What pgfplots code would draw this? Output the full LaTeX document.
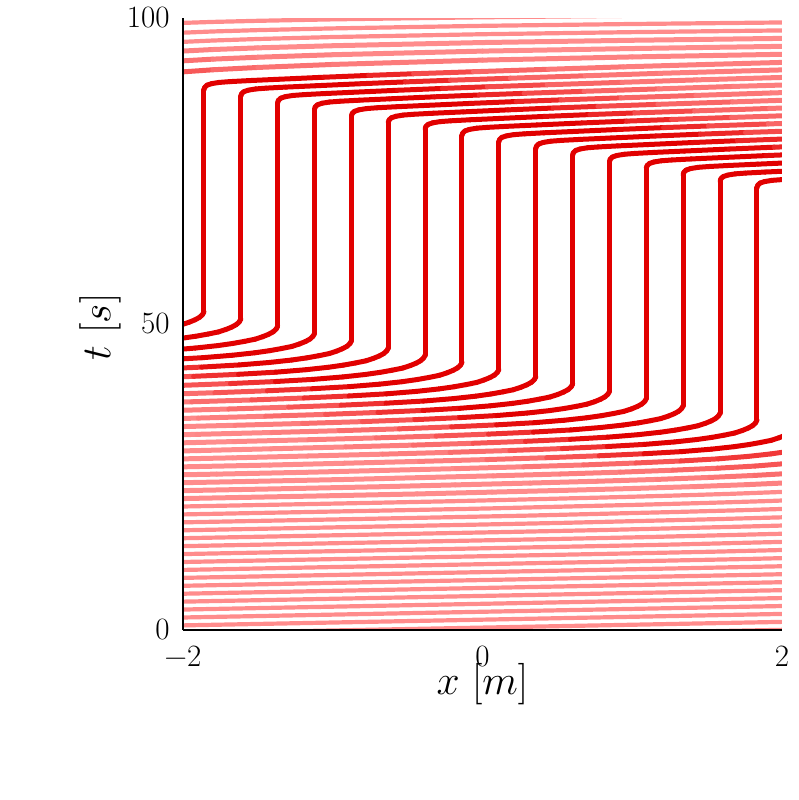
\documentclass[border=0pt]{standalone}
\usepackage{pgfplots}
\pgfplotsset{compat=1.18}
\definecolor{lightred}{RGB}{255,140,140}
\definecolor{solidred}{RGB}{225,0,0}
\newcommand{\tl}[1]{{\fontsize{15.5}{18}\selectfont #1}}
\pgfplotsset{
  colormap={redfade}{rgb255=(255,140,140) rgb255=(245,70,70) rgb255=(225,0,0)},
  traj/.style={mesh, point meta=explicit, line width=2.5pt, line cap=round, line join=round},
  free/.style={color=lightred, line width=2.1pt, line cap=round, line join=round, no markers},
}
\begin{document}
\begin{tikzpicture}
\useasboundingbox (-91.5pt,-85pt) rectangle (308pt,315pt);
\begin{axis}[
  at={(0,0)}, anchor=south west,
  width=299.5pt, height=306pt, scale only axis,
  xmin=-2, xmax=2, ymin=0, ymax=100,
  axis x line*=bottom, axis y line*=left,
  axis line style={line width=0.8pt, black},
  axis on top,
  xtick={-2,0,2}, ytick={0,50,100},
  xticklabels={\tl{−2},\tl{0},\tl{2}}, yticklabels={\tl{0},\tl{50},\tl{100}},
  major tick length=0pt,
  xticklabel style={inner sep=0pt, anchor=north, yshift=-8pt},
  yticklabel style={inner sep=0pt, anchor=east, xshift=-6.5pt},
  colormap name=redfade,
  point meta min=0, point meta max=1,
  xlabel={$x\ [m]$}, ylabel={$t\ [s]$},
  every axis x label/.style={at={(axis description cs:0.5,-0.089)}, anchor=center, inner sep=0pt, font=\fontsize{20.5}{24}\selectfont},
  every axis y label/.style={at={(axis description cs:-0.1386,0.495)}, anchor=center, inner sep=0pt, rotate=90, font=\fontsize{20.5}{24}\selectfont},
]
% ---- early vehicles (free flow, light) ----
\addplot[free] coordinates {(-2.05,-1.87) (2.05,0.05)};
\addplot[free] coordinates {(-2.05,-0.57) (2.05,1.35)};
\addplot[free] coordinates {(-2.05,0.73) (2.05,2.65)};
\addplot[free] coordinates {(-2.05,2.02) (2.05,3.94)};
\addplot[free] coordinates {(-2.05,3.32) (2.05,5.24)};
\addplot[free] coordinates {(-2.05,4.61) (2.05,6.53)};
\addplot[free] coordinates {(-2.082,5.89) (-1.082,6.36) (-0.082,6.83) (0.918,7.30) (1.918,7.77) (2.518,8.07)};
\addplot[free] coordinates {(-2.328,7.07) (-1.328,7.54) (-0.328,8.01) (0.672,8.48) (1.672,8.95) (2.272,9.25)};
\addplot[free] coordinates {(-2.574,8.25) (-1.574,8.72) (-0.574,9.19) (0.426,9.66) (1.426,10.13) (2.026,10.43)};
\addplot[free] coordinates {(-2.820,9.43) (-1.820,9.90) (-0.820,10.37) (0.180,10.84) (1.180,11.31) (1.780,11.61) (2.280,11.91)};
\addplot[free] coordinates {(-2.067,11.08) (-1.067,11.55) (-0.067,12.02) (0.933,12.49) (1.533,12.79) (2.033,13.09)};
\addplot[free] coordinates {(-2.313,12.26) (-1.313,12.73) (-0.313,13.20) (0.687,13.67) (1.287,13.97) (1.787,14.27) (2.287,14.57)};
\addplot[free] coordinates {(-2.559,13.44) (-1.559,13.91) (-0.559,14.38) (0.441,14.85) (1.041,15.15) (1.541,15.45) (2.041,15.75)};
\addplot[free] coordinates {(-2.805,14.62) (-1.805,15.09) (-0.805,15.56) (0.195,16.03) (0.795,16.33) (1.295,16.63) (1.795,16.93) (2.245,17.23)};
\addplot[free] coordinates {(-2.051,16.27) (-1.051,16.74) (-0.051,17.21) (0.549,17.51) (1.049,17.81) (1.549,18.11) (1.999,18.41) (2.399,18.71)};
\addplot[free] coordinates {(-2.298,17.45) (-1.298,17.92) (-0.298,18.39) (0.302,18.69) (0.802,18.99) (1.302,19.29) (1.752,19.59) (2.152,19.89)};
\addplot[free] coordinates {(-2.544,18.63) (-1.544,19.10) (-0.544,19.57) (0.056,19.87) (0.556,20.17) (1.056,20.47) (1.506,20.77) (1.906,21.07) (2.256,21.39)};
\addplot[free] coordinates {(-2.790,19.81) (-1.790,20.28) (-0.790,20.75) (-0.190,21.05) (0.310,21.35) (0.810,21.65) (1.260,21.95) (1.660,22.25) (2.010,22.57)};
\addplot[traj] coordinates {(-2.036,21.46)[0] (-1.036,21.93)[0] (-0.436,22.23)[0] (0.064,22.53)[0] (0.564,22.83)[0] (1.014,23.13)[0] (1.414,23.43)[0.02] (1.764,23.75)[0.05] (2.064,24.08)[0.1]};
\addplot[traj] coordinates {(-2.282,22.64)[0] (-1.282,23.11)[0] (-0.682,23.41)[0] (-0.182,23.71)[0] (0.318,24.01)[0.01] (0.768,24.31)[0.04] (1.168,24.61)[0.08] (1.518,24.93)[0.12] (1.818,25.26)[0.2] (2.068,25.61)[0.25]};
\addplot[traj] coordinates {(-2.529,23.82)[0] (-1.529,24.29)[0] (-0.929,24.59)[0] (-0.429,24.89)[0] (0.071,25.19)[0.02] (0.521,25.49)[0.06] (0.921,25.79)[0.12] (1.271,26.11)[0.2] (1.571,26.44)[0.32] (1.821,26.79)[0.4] (2.021,27.19)[0.4]};
\addplot[traj] coordinates {(-2.775,25.00)[0] (-1.775,25.47)[0] (-1.175,25.77)[0] (-0.675,26.07)[0] (-0.175,26.37)[0.03] (0.275,26.67)[0.09] (0.675,26.97)[0.18] (1.025,27.29)[0.3] (1.325,27.62)[0.48] (1.575,27.97)[0.6] (1.775,28.37)[0.6] (1.925,28.77)[0.6] (2.025,29.12)[0.6]};
% ---- late vehicles (after the jam) ----
\addplot[free] coordinates {(-2,99.20) (-1.8,99.36) (-1.5,99.54) (-1,99.78) (0,100.12) (1,100.36) (2,100.57)};
\addplot[free] coordinates {(-2,97.60) (-1.8,97.80) (-1.5,98.02) (-1,98.30) (0,98.72) (1,99.02) (2,99.27)};
\addplot[free] coordinates {(-2,96.10) (-1.8,96.32) (-1.5,96.57) (-1,96.89) (0,97.35) (1,97.69) (2,97.97)};
\addplot[traj] coordinates {(-2,94.60)[0.1] (-1.8,94.85)[0.05] (-1.5,95.12)[0] (-1,95.47)[0] (0,95.99)[0] (1,96.36)[0] (2,96.67)[0]};
\addplot[traj] coordinates {(-2,93.00)[0.25] (-1.8,93.28)[0.15] (-1.5,93.59)[0.1] (-1,94.00)[0.05] (0,94.59)[0] (1,95.01)[0] (2,95.37)[0]};
\addplot[traj] coordinates {(-2,91.20)[0.45] (-1.8,91.54)[0.3] (-1.5,91.92)[0.2] (-1,92.41)[0.15] (0,93.12)[0.1] (1,93.64)[0.05] (2,94.07)[0.05]};
% ---- queued vehicles ----
\addplot[traj] coordinates {(-2.021,26.65)[0] (-1.421,26.95)[0] (-0.921,27.25)[0] (-0.421,27.55)[0.05] (0.029,27.85)[0.15] (0.429,28.15)[0.3] (0.779,28.47)[0.5] (1.079,28.80)[0.8] (1.329,29.15)[1] (1.529,29.55)[1] (1.679,29.95)[1] (1.779,30.30)[1] (1.859,30.65)[1] (1.929,31.00)[1] (1.979,31.40)[1] (2.019,31.80)[1]};
\addplot[traj] coordinates {(-2.267,27.83)[0] (-1.667,28.13)[0] (-1.167,28.43)[0] (-0.667,28.73)[0.05] (-0.217,29.03)[0.15] (0.183,29.33)[0.3] (0.533,29.65)[0.5] (0.833,29.98)[0.8] (1.083,30.33)[1] (1.283,30.73)[1] (1.433,31.13)[1] (1.533,31.48)[1] (1.613,31.83)[1] (1.683,32.18)[1] (1.733,32.58)[1] (1.773,32.98)[1] (1.803,33.38)[1] (1.823,33.83)[1] (1.833,34.28)[1] (1.833,72.27)[1] (1.838,72.67)[1] (1.853,73.02)[1] (1.883,73.27)[1] (1.933,73.47)[1] (2.003,73.60)[1]};
\addplot[traj] coordinates {(-2.513,29.01)[0] (-1.913,29.31)[0] (-1.413,29.61)[0] (-0.913,29.91)[0.05] (-0.463,30.21)[0.15] (-0.063,30.51)[0.3] (0.287,30.83)[0.5] (0.587,31.16)[0.8] (0.837,31.51)[1] (1.037,31.91)[1] (1.187,32.31)[1] (1.287,32.66)[1] (1.367,33.01)[1] (1.437,33.36)[1] (1.487,33.76)[1] (1.527,34.16)[1] (1.557,34.56)[1] (1.577,35.01)[1] (1.587,35.46)[1] (1.587,73.33)[1] (1.592,73.73)[1] (1.607,74.08)[1] (1.637,74.33)[1] (1.687,74.53)[1] (1.757,74.66)[1] (1.887,74.83)[1] (2.087,75.05)[1]};
\addplot[traj] coordinates {(-2.160,30.49)[0] (-1.660,30.79)[0] (-1.160,31.09)[0.05] (-0.710,31.39)[0.15] (-0.310,31.69)[0.3] (0.040,32.01)[0.5] (0.340,32.34)[0.8] (0.590,32.69)[1] (0.790,33.09)[1] (0.940,33.49)[1] (1.040,33.84)[1] (1.120,34.19)[1] (1.190,34.54)[1] (1.240,34.94)[1] (1.280,35.34)[1] (1.310,35.74)[1] (1.330,36.19)[1] (1.340,36.64)[1] (1.340,74.40)[1] (1.345,74.80)[1] (1.360,75.15)[1] (1.390,75.40)[1] (1.440,75.60)[1] (1.510,75.73)[1] (1.640,75.90)[1] (1.840,76.12)[1] (2.140,76.45)[1]};
\addplot[traj] coordinates {(-2.406,31.67)[0] (-1.906,31.97)[0] (-1.406,32.27)[0.05] (-0.956,32.57)[0.15] (-0.556,32.87)[0.3] (-0.206,33.19)[0.5] (0.094,33.52)[0.8] (0.344,33.87)[1] (0.544,34.27)[1] (0.694,34.67)[1] (0.794,35.02)[1] (0.874,35.37)[1] (0.944,35.72)[1] (0.994,36.12)[1] (1.034,36.52)[1] (1.064,36.92)[1] (1.084,37.37)[1] (1.094,37.82)[1] (1.094,75.47)[1] (1.099,75.87)[1] (1.114,76.22)[1] (1.144,76.47)[1] (1.194,76.67)[1] (1.264,76.80)[1] (1.394,76.97)[1] (1.594,77.19)[1] (1.894,77.52)[1] (2.194,77.82)[0.85]};
\addplot[traj] coordinates {(-2.152,33.15)[0] (-1.652,33.45)[0.05] (-1.202,33.75)[0.15] (-0.802,34.05)[0.3] (-0.452,34.37)[0.5] (-0.152,34.70)[0.8] (0.098,35.05)[1] (0.298,35.45)[1] (0.448,35.85)[1] (0.548,36.20)[1] (0.628,36.55)[1] (0.698,36.90)[1] (0.748,37.30)[1] (0.788,37.70)[1] (0.818,38.10)[1] (0.838,38.55)[1] (0.848,39.00)[1] (0.848,76.54)[1] (0.853,76.94)[1] (0.868,77.29)[1] (0.898,77.54)[1] (0.948,77.74)[1] (1.018,77.87)[1] (1.148,78.04)[1] (1.348,78.26)[1] (1.648,78.59)[1] (1.948,78.89)[0.85] (2.248,79.16)[0.6]};
\addplot[traj] coordinates {(-2.398,34.33)[0] (-1.898,34.63)[0.05] (-1.448,34.93)[0.15] (-1.048,35.23)[0.3] (-0.698,35.55)[0.5] (-0.398,35.88)[0.8] (-0.148,36.23)[1] (0.052,36.63)[1] (0.202,37.03)[1] (0.302,37.38)[1] (0.382,37.73)[1] (0.452,38.08)[1] (0.502,38.48)[1] (0.542,38.88)[1] (0.572,39.28)[1] (0.592,39.73)[1] (0.602,40.18)[1] (0.602,77.60)[1] (0.607,78.00)[1] (0.622,78.35)[1] (0.652,78.60)[1] (0.702,78.80)[1] (0.772,78.93)[1] (0.902,79.10)[1] (1.102,79.32)[1] (1.402,79.65)[1] (1.702,79.95)[0.85] (2.002,80.22)[0.6]};
\addplot[traj] coordinates {(-2.144,35.81)[0.05] (-1.694,36.11)[0.15] (-1.294,36.41)[0.3] (-0.944,36.73)[0.5] (-0.644,37.06)[0.8] (-0.394,37.41)[1] (-0.194,37.81)[1] (-0.044,38.21)[1] (0.056,38.56)[1] (0.136,38.91)[1] (0.206,39.26)[1] (0.256,39.66)[1] (0.296,40.06)[1] (0.326,40.46)[1] (0.346,40.91)[1] (0.356,41.36)[1] (0.356,78.67)[1] (0.361,79.07)[1] (0.376,79.42)[1] (0.406,79.67)[1] (0.456,79.87)[1] (0.526,80.00)[1] (0.656,80.17)[1] (0.856,80.39)[1] (1.156,80.72)[1] (1.456,81.02)[0.85] (1.756,81.29)[0.6] (2.156,81.62)[0.35]};
\addplot[traj] coordinates {(-2.391,36.99)[0.05] (-1.941,37.29)[0.15] (-1.541,37.59)[0.3] (-1.191,37.91)[0.5] (-0.891,38.24)[0.8] (-0.641,38.59)[1] (-0.441,38.99)[1] (-0.291,39.39)[1] (-0.191,39.74)[1] (-0.111,40.09)[1] (-0.041,40.44)[1] (0.009,40.84)[1] (0.049,41.24)[1] (0.079,41.64)[1] (0.099,42.09)[1] (0.109,42.54)[1] (0.109,79.74)[1] (0.114,80.14)[1] (0.129,80.49)[1] (0.159,80.74)[1] (0.209,80.94)[1] (0.279,81.07)[1] (0.409,81.24)[1] (0.609,81.46)[1] (0.909,81.79)[1] (1.209,82.09)[0.85] (1.509,82.36)[0.6] (1.909,82.69)[0.35] (2.409,83.09)[0.2]};
\addplot[traj] coordinates {(-2.187,38.47)[0.15] (-1.787,38.77)[0.3] (-1.437,39.09)[0.5] (-1.137,39.42)[0.8] (-0.887,39.77)[1] (-0.687,40.17)[1] (-0.537,40.57)[1] (-0.437,40.92)[1] (-0.357,41.27)[1] (-0.287,41.62)[1] (-0.237,42.02)[1] (-0.197,42.42)[1] (-0.167,42.82)[1] (-0.147,43.27)[1] (-0.137,43.72)[1] (-0.137,80.80)[1] (-0.132,81.20)[1] (-0.117,81.55)[1] (-0.087,81.80)[1] (-0.037,82.00)[1] (0.033,82.13)[1] (0.163,82.30)[1] (0.363,82.52)[1] (0.663,82.85)[1] (0.963,83.15)[0.85] (1.263,83.42)[0.6] (1.663,83.75)[0.35] (2.163,84.15)[0.2]};
\addplot[traj] coordinates {(-2.433,39.65)[0.15] (-2.033,39.95)[0.3] (-1.683,40.27)[0.5] (-1.383,40.60)[0.8] (-1.133,40.95)[1] (-0.933,41.35)[1] (-0.783,41.75)[1] (-0.683,42.10)[1] (-0.603,42.45)[1] (-0.533,42.80)[1] (-0.483,43.20)[1] (-0.443,43.60)[1] (-0.413,44.00)[1] (-0.393,44.45)[1] (-0.383,44.90)[1] (-0.383,81.87)[1] (-0.378,82.27)[1] (-0.363,82.62)[1] (-0.333,82.87)[1] (-0.283,83.07)[1] (-0.213,83.20)[1] (-0.083,83.37)[1] (0.117,83.59)[1] (0.417,83.92)[1] (0.717,84.22)[0.85] (1.017,84.49)[0.6] (1.417,84.82)[0.35] (1.917,85.22)[0.2] (2.417,85.62)[0.1]};
\addplot[traj] coordinates {(-2.279,41.13)[0.3] (-1.929,41.45)[0.5] (-1.629,41.78)[0.8] (-1.379,42.13)[1] (-1.179,42.53)[1] (-1.029,42.93)[1] (-0.929,43.28)[1] (-0.849,43.63)[1] (-0.779,43.98)[1] (-0.729,44.38)[1] (-0.689,44.78)[1] (-0.659,45.18)[1] (-0.639,45.63)[1] (-0.629,46.08)[1] (-0.629,82.94)[1] (-0.624,83.34)[1] (-0.609,83.69)[1] (-0.579,83.94)[1] (-0.529,84.14)[1] (-0.459,84.27)[1] (-0.329,84.44)[1] (-0.129,84.66)[1] (0.171,84.99)[1] (0.471,85.29)[0.85] (0.771,85.56)[0.6] (1.171,85.89)[0.35] (1.671,86.29)[0.2] (2.171,86.69)[0.1]};
\addplot[traj] coordinates {(-2.175,42.63)[0.5] (-1.875,42.96)[0.8] (-1.625,43.31)[1] (-1.425,43.71)[1] (-1.275,44.11)[1] (-1.175,44.46)[1] (-1.095,44.81)[1] (-1.025,45.16)[1] (-0.975,45.56)[1] (-0.935,45.96)[1] (-0.905,46.36)[1] (-0.885,46.81)[1] (-0.875,47.26)[1] (-0.875,84.00)[1] (-0.870,84.40)[1] (-0.855,84.75)[1] (-0.825,85.00)[1] (-0.775,85.20)[1] (-0.705,85.33)[1] (-0.575,85.50)[1] (-0.375,85.72)[1] (-0.075,86.05)[1] (0.225,86.35)[0.85] (0.525,86.62)[0.6] (0.925,86.95)[0.35] (1.425,87.35)[0.2] (1.925,87.75)[0.1] (2.425,88.10)[0.1]};
\addplot[traj] coordinates {(-2.122,44.14)[0.8] (-1.872,44.49)[1] (-1.672,44.89)[1] (-1.522,45.29)[1] (-1.422,45.64)[1] (-1.342,45.99)[1] (-1.272,46.34)[1] (-1.222,46.74)[1] (-1.182,47.14)[1] (-1.152,47.54)[1] (-1.132,47.99)[1] (-1.122,48.44)[1] (-1.122,85.07)[1] (-1.117,85.47)[1] (-1.102,85.82)[1] (-1.072,86.07)[1] (-1.022,86.27)[1] (-0.952,86.40)[1] (-0.822,86.57)[1] (-0.622,86.79)[1] (-0.322,87.12)[1] (-0.022,87.42)[0.85] (0.278,87.69)[0.6] (0.678,88.02)[0.35] (1.178,88.42)[0.2] (1.678,88.82)[0.1] (2.178,89.17)[0.1]};
\addplot[traj] coordinates {(-2.118,45.67)[1] (-1.918,46.07)[1] (-1.768,46.47)[1] (-1.668,46.82)[1] (-1.588,47.17)[1] (-1.518,47.52)[1] (-1.468,47.92)[1] (-1.428,48.32)[1] (-1.398,48.72)[1] (-1.378,49.17)[1] (-1.368,49.62)[1] (-1.368,86.14)[1] (-1.363,86.54)[1] (-1.348,86.89)[1] (-1.318,87.14)[1] (-1.268,87.34)[1] (-1.198,87.47)[1] (-1.068,87.64)[1] (-0.868,87.86)[1] (-0.568,88.19)[1] (-0.268,88.49)[0.85] (0.032,88.76)[0.6] (0.432,89.09)[0.35] (0.932,89.49)[0.2] (1.432,89.89)[0.1] (1.932,90.24)[0.1] (2.532,90.64)[0.1]};
\addplot[traj] coordinates {(-2.164,47.25)[1] (-2.014,47.65)[1] (-1.914,48.00)[1] (-1.834,48.35)[1] (-1.764,48.70)[1] (-1.714,49.10)[1] (-1.674,49.50)[1] (-1.644,49.90)[1] (-1.624,50.35)[1] (-1.614,50.80)[1] (-1.614,87.21)[1] (-1.609,87.61)[1] (-1.594,87.96)[1] (-1.564,88.21)[1] (-1.514,88.41)[1] (-1.444,88.54)[1] (-1.314,88.71)[1] (-1.114,88.93)[1] (-0.814,89.26)[1] (-0.514,89.56)[0.85] (-0.214,89.83)[0.6] (0.186,90.16)[0.35] (0.686,90.56)[0.2] (1.186,90.96)[0.1] (1.686,91.31)[0.1] (2.286,91.71)[0.1]};
\addplot[traj] coordinates {(-2.080,49.53)[1] (-2.010,49.88)[1] (-1.960,50.28)[1] (-1.920,50.68)[1] (-1.890,51.08)[1] (-1.870,51.53)[1] (-1.860,51.98)[1] (-1.860,88.27)[1] (-1.855,88.67)[1] (-1.840,89.02)[1] (-1.810,89.27)[1] (-1.760,89.47)[1] (-1.690,89.60)[1] (-1.560,89.77)[1] (-1.360,89.99)[1] (-1.060,90.32)[1] (-0.760,90.62)[0.85] (-0.460,90.89)[0.6] (-0.060,91.22)[0.35] (0.440,91.62)[0.2] (0.940,92.02)[0.1] (1.440,92.37)[0.1] (2.040,92.77)[0.1]};
\end{axis}
\end{tikzpicture}
\end{document}
